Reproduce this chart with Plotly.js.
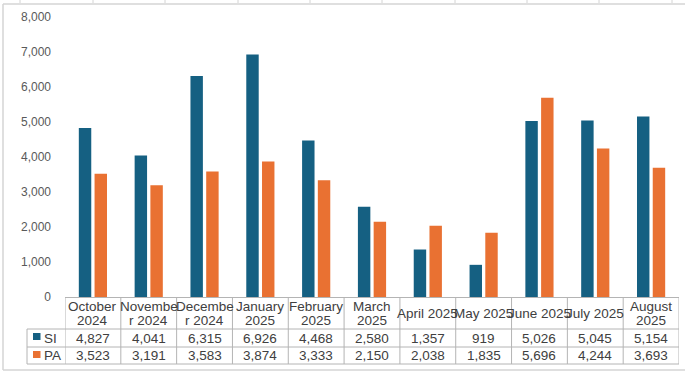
<!DOCTYPE html>
<html>
<head>
<meta charset="utf-8">
<script src="https://cdn.plot.ly/plotly-3.0.1.min.js"></script>
<style>html,body{margin:0;padding:0;background:#fff;}#chart{width:685px;height:371px;}</style>
</head>
<body>
<div id="chart"></div>
<script>
// ---- data ----
const categories = ["October 2024","November 2024","December 2024","January 2025","February 2025","March 2025","April 2025","May 2025","June 2025","July 2025","August 2025"];
const headerLabels = ["October<br>2024","Novembe<br>r 2024","Decembe<br>r 2024","January<br>2025","February<br>2025","March<br>2025","April 2025","May 2025","June 2025","July 2025","August<br>2025"];
const seriesNames = ["SI","PA"];
const siValues = [4827,4041,6315,6926,4468,2580,1357,919,5026,5045,5154];
const paValues = [3523,3191,3583,3874,3333,2150,2038,1835,5696,4244,3693];
const seriesColors = ["#156082","#E97132"];
const yTicks = [0,1000,2000,3000,4000,5000,6000,7000,8000];

// ---- geometry helpers (pixel -> paper) ----
const W = 685, H = 371;
const L = 65, R = 6, T = 17, B = 74;
const pw = W - L - R, ph = H - T - B;
const py = p => (H - B - p) / ph;      // pixel y -> paper y
const px = p => (p - L) / pw;          // pixel x -> paper x

const lineColor = "#b4b4b4";
const textColor = "#404040";
const fontFam = "Liberation Sans, Arial, sans-serif";
const tf = {family:fontFam, size:13.5, color:textColor};

const traces = [siValues, paValues].map((vals, k) => ({
  type: "bar",
  name: seriesNames[k],
  x: categories,
  y: vals,
  marker: {color: seriesColors[k]},
  hoverinfo: "x+y+name"
}));

const shapes = [];
const annotations = [];
const yHeadTop = py(297), yHeadBot = py(329), yRow1 = py(347), yBot = py(364);
const n = categories.length;

// horizontal table lines
[yHeadBot, yRow1, yBot].forEach(yy => shapes.push({type:"line", xref:"paper", yref:"paper", x0:px(27), x1:1, y0:yy, y1:yy, line:{color:lineColor, width:1}}));
// vertical lines at category boundaries
for (let i = 0; i <= n; i++) {
  shapes.push({type:"line", xref:"x", yref:"paper", x0:i-0.5, x1:i-0.5, y0:yHeadTop, y1:yBot, line:{color:lineColor, width:1}});
}
// legend column left border
shapes.push({type:"line", xref:"paper", yref:"paper", x0:px(27), x1:px(27), y0:yHeadBot, y1:yBot, line:{color:lineColor, width:1}});

// header labels and values
for (let i = 0; i < n; i++) {
  const parts = headerLabels[i].split("<br>");
  if (parts.length === 1) {
    annotations.push({xref:"x", yref:"paper", x:i, y:py(313), text:parts[0], showarrow:false, font:tf, xanchor:"center", yanchor:"middle"});
  } else {
    annotations.push({xref:"x", yref:"paper", x:i, y:py(306.5), text:parts[0], showarrow:false, font:tf, xanchor:"center", yanchor:"middle"});
    annotations.push({xref:"x", yref:"paper", x:i, y:py(320), text:parts[1], showarrow:false, font:tf, xanchor:"center", yanchor:"middle"});
  }
  annotations.push({xref:"x", yref:"paper", x:i, y:py(338), text:siValues[i].toLocaleString("en-US"), showarrow:false, font:tf, xanchor:"center", yanchor:"middle"});
  annotations.push({xref:"x", yref:"paper", x:i, y:py(355.5), text:paValues[i].toLocaleString("en-US"), showarrow:false, font:tf, xanchor:"center", yanchor:"middle"});
}
// legend keys
seriesNames.forEach((nm, k) => {
  const cy = k === 0 ? 336.5 : 354.5;
  const ty = k === 0 ? 338 : 355.5;
  shapes.push({type:"rect", xref:"paper", yref:"paper", x0:px(33), x1:px(40.5), y0:py(cy+3.5), y1:py(cy-3.5), fillcolor:seriesColors[k], line:{width:0}});
  annotations.push({xref:"paper", yref:"paper", x:px(42), y:py(ty), text:nm, showarrow:false, font:tf, xanchor:"left", yanchor:"middle"});
});

// spreadsheet chrome (chart border & sheet gridlines)
const chrome = "#d4d4d4";
shapes.push({type:"line", xref:"paper", yref:"paper", x0:px(3), x1:px(685), y0:py(4), y1:py(4), line:{color:chrome, width:1.5}});
shapes.push({type:"line", xref:"paper", yref:"paper", x0:px(3), x1:px(685), y0:py(370), y1:py(370), line:{color:chrome, width:1.5}});
shapes.push({type:"line", xref:"paper", yref:"paper", x0:px(3), x1:px(3), y0:py(4), y1:py(370), line:{color:chrome, width:1.5}});
[20,93,165,238,310,382,455,527,599,672].forEach(xx => shapes.push({type:"line", xref:"paper", yref:"paper", x0:px(xx), x1:px(xx), y0:py(0), y1:py(3), line:{color:chrome, width:1}}));

const layout = {
  width: W, height: H,
  margin: {l:L, r:R, t:T, b:B, pad:0},
  paper_bgcolor: "#ffffff", plot_bgcolor: "#ffffff",
  barmode: "group", bargap: 0.436, bargroupgap: 0.21,
  showlegend: false,
  font: {family: fontFam},
  xaxis: {type:"category", range:[-0.5, n-0.5], showticklabels:false, showgrid:false, zeroline:false,
          showline:true, linecolor:lineColor, linewidth:1, ticks:"", fixedrange:true},
  yaxis: {range:[0,8000], tickvals:yTicks, tickformat:",", showgrid:false, zeroline:false, showline:false,
          ticks:"", ticklabelstandoff:13, tickfont:{family:fontFam, size:12, color:"#595959"}, fixedrange:true},
  shapes: shapes,
  annotations: annotations
};

Plotly.newPlot("chart", traces, layout, {displayModeBar:false, staticPlot:true});
</script>
</body>
</html>
